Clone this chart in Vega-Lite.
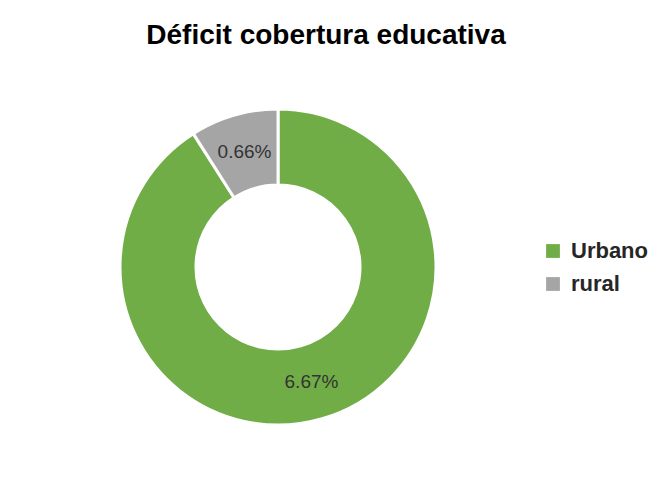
{
  "$schema": "https://vega.github.io/schema/vega-lite/v6.json",
  "autosize": "none",
  "width": 316,
  "height": 316,
  "padding": {"left": 120, "top": 109, "right": 229, "bottom": 54},
  "background": "white",
  "title": {
    "text": "Déficit cobertura educativa",
    "font": "Liberation Sans",
    "fontSize": 28,
    "fontWeight": "bold",
    "color": "#000000",
    "anchor": "middle",
    "baseline": "alphabetic",
    "dx": 48,
    "offset": 31
  },
  "data": {
    "values": [
      {"zona": "Urbano", "valor": 6.67, "label": "6.67%", "ord": 1},
      {"zona": "rural", "valor": 0.66, "label": "0.66%", "ord": 2}
    ]
  },
  "encoding": {
    "theta": {"field": "valor", "type": "quantitative", "stack": true},
    "order": {"field": "ord", "type": "quantitative"}
  },
  "layer": [
    {
      "mark": {"type": "arc", "innerRadius": 82, "outerRadius": 158, "stroke": "white", "strokeWidth": 3},
      "encoding": {
        "color": {
          "field": "zona",
          "type": "nominal",
          "scale": {"domain": ["Urbano", "rural"], "range": ["#70AD47", "#A5A5A5"]},
          "legend": {
            "title": null,
            "orient": "none",
            "legendX": 422,
            "legendY": 131,
            "padding": 0,
            "symbolType": "square",
            "symbolSize": 190,
            "symbolStrokeWidth": 0,
            "labelFont": "Liberation Sans",
            "labelFontSize": 22,
            "labelFontWeight": "bold",
            "labelColor": "#262626",
            "labelOffset": 7,
            "rowPadding": 11
          }
        }
      }
    },
    {
      "mark": {"type": "text", "radius": 120, "font": "Liberation Sans", "fontSize": 19, "color": "#333333"},
      "encoding": {
        "text": {"field": "label", "type": "nominal"}
      }
    }
  ]
}
